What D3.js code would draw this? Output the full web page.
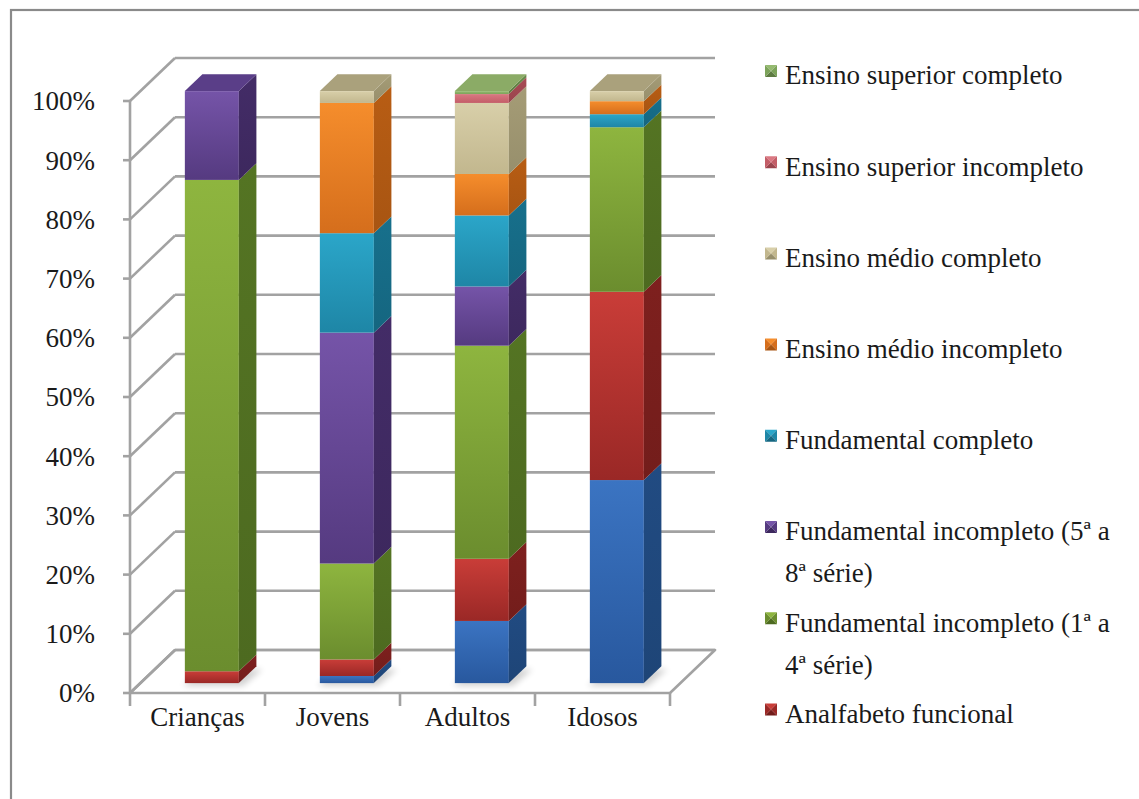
<!DOCTYPE html>
<html>
<head>
<meta charset="utf-8">
<script src="https://cdn.jsdelivr.net/npm/d3@7"></script>
<style>
  html, body { margin: 0; padding: 0; background: #fff; }
  svg { display: block; }
  svg text { font-family: "Liberation Serif", Tinos, "Times New Roman", Times, "DejaVu Serif", serif; fill: #1a1a1a; }
</style>
</head>
<body>
<svg id="chart" width="1139" height="799"></svg>
<script>
// Age groups along the x axis
const categories = ["Crianças", "Jovens", "Adultos", "Idosos"];

// Percentage of each schooling level per age group (stacked bottom to top)
const analfabeto          = [0, 1.2, 10.5, 34.3];
const analfabetoFuncional = [2, 2.8, 10.5, 31.8];
const fund1a4             = [83, 16.2, 36, 27.8];
const fund5a8             = [15, 39, 10, 0];
const fundCompleto        = [0, 16.8, 12, 2.2];
const medioIncompleto     = [0, 22, 7, 2.2];
const medioCompleto       = [0, 2, 12, 1.7];
const superiorIncompleto  = [0, 0, 1.5, 0];
const superiorCompleto    = [0, 0, 0.5, 0];

const seriesKeys = ["analfabeto", "analfabetoFuncional", "fund1a4", "fund5a8", "fundCompleto",
                    "medioIncompleto", "medioCompleto", "superiorIncompleto", "superiorCompleto"];
const seriesValues = [analfabeto, analfabetoFuncional, fund1a4, fund5a8, fundCompleto,
                      medioIncompleto, medioCompleto, superiorIncompleto, superiorCompleto];

// Legend entries, top to bottom (each entry may wrap onto two lines)
const legendKeys = ["superiorCompleto", "superiorIncompleto", "medioCompleto", "medioIncompleto",
                    "fundCompleto", "fund5a8", "fund1a4", "analfabetoFuncional"];
const legendLabels = [
  ["Ensino superior completo"],
  ["Ensino superior incompleto"],
  ["Ensino médio completo"],
  ["Ensino médio incompleto"],
  ["Fundamental completo"],
  ["Fundamental incompleto (5ª a", "8ª série)"],
  ["Fundamental incompleto (1ª a", "4ª série)"],
  ["Analfabeto funcional"]
];

// Y axis ticks
const yTicks = [0, 10, 20, 30, 40, 50, 60, 70, 80, 90, 100];

const FONT = "'Liberation Serif', Tinos, 'Times New Roman', Times, 'DejaVu Serif', serif";

// Fill shades per series: front face top, front face bottom, side face, top face
const palette = {
  analfabeto:          { light: "#3b74c2", dark: "#28589e", side: "#1e4577", top: "#2f5f9f" },
  analfabetoFuncional: { light: "#c93d38", dark: "#9a2826", side: "#731d1b", top: "#a52d2a" },
  fund1a4:             { light: "#8eb53f", dark: "#6b8d2e", side: "#4d6a20", top: "#7a9d35" },
  fund5a8:             { light: "#7554a8", dark: "#553a80", side: "#3d285e", top: "#5a3e88" },
  fundCompleto:        { light: "#2ba6c9", dark: "#1e86a6", side: "#156680", top: "#2290b0" },
  medioIncompleto:     { light: "#f58d2c", dark: "#d56e1c", side: "#a85512", top: "#d9761f" },
  medioCompleto:       { light: "#d8cfa9", dark: "#c2b78e", side: "#978f6c", top: "#aaa17c" },
  superiorIncompleto:  { light: "#da7882", dark: "#c35d67", side: "#9a454d", top: "#b4545d" },
  superiorCompleto:    { light: "#95ba70", dark: "#7ca35a", side: "#5e7c42", top: "#8bab66" }
};

const svg = d3.select("#chart");

// Outer frame
svg.append("rect")
  .attr("x", 11).attr("y", 10)
  .attr("width", 1160).attr("height", 820)
  .attr("fill", "#fff").attr("stroke", "#8a8a8a").attr("stroke-width", 2.2);

// Front plane scales
const x = d3.scaleBand().domain(categories).range([130, 670]).paddingInner(0).paddingOuter(0);
const y = d3.scaleLinear().domain([0, 100]).range([693, 101]);

// Depth projection: full depth of the plot box
const DX = 45, DY = -43;
const proj = (px, py, f) => [px + DX * f, py + DY * f];

// Bars sit between these depth fractions
const fFront = 0.23, fBack = 0.62;
const barFrac = 0.4;

const gridColor = "#a2a2a2";
const gw = 2.6;

// Floor
const floor = [proj(130, y(0), 0), proj(670, y(0), 0), proj(670, y(0), 1), proj(130, y(0), 1)];
svg.append("polygon")
  .attr("points", floor.map(p => p.join(",")).join(" "))
  .attr("fill", "#fff").attr("stroke", gridColor).attr("stroke-width", gw)
  .attr("stroke-linejoin", "round");

// Back wall gridlines and left wall diagonals
const grid = svg.append("g").attr("fill", "none").attr("stroke", gridColor).attr("stroke-width", gw);
yTicks.forEach(t => {
  const b0 = proj(130, y(t), 1), b1 = proj(670, y(t), 1);
  grid.append("line").attr("x1", b0[0]).attr("y1", b0[1]).attr("x2", b1[0]).attr("y2", b1[1]);
  grid.append("line").attr("x1", 130).attr("y1", y(t)).attr("x2", b0[0]).attr("y2", b0[1]);
});

// Front vertical axis with ticks
const axisG = svg.append("g");
axisG.append("line").attr("x1", 130).attr("x2", 130).attr("y1", y(100)).attr("y2", y(0))
  .attr("stroke", gridColor).attr("stroke-width", gw);
yTicks.forEach(t => {
  axisG.append("line").attr("x1", 123).attr("x2", 130).attr("y1", y(t)).attr("y2", y(t))
    .attr("stroke", gridColor).attr("stroke-width", gw);
  axisG.append("text")
    .attr("x", 95).attr("y", y(t)).attr("dy", "0.35em")
    .attr("text-anchor", "end").attr("font-size", 27).attr("font-family", FONT)
    .text(t + "%");
});

// Category ticks along the front floor edge
const xTickPos = categories.map(c => x(c)).concat([x.range()[1]]);
xTickPos.forEach(px => {
  axisG.append("line").attr("x1", px).attr("x2", px).attr("y1", y(0)).attr("y2", y(0) + 13)
    .attr("stroke", gridColor).attr("stroke-width", gw);
});
categories.forEach(c => {
  axisG.append("text")
    .attr("x", x(c) + x.bandwidth() / 2).attr("y", 717).attr("dy", "0.35em")
    .attr("text-anchor", "middle").attr("font-size", 27).attr("font-family", FONT)
    .text(c);
});

// Gradients for front and side faces
const defs = svg.append("defs");
seriesKeys.forEach(k => {
  const g = defs.append("linearGradient").attr("id", "grad-" + k)
    .attr("x1", 0).attr("y1", 0).attr("x2", 0).attr("y2", 1);
  g.append("stop").attr("offset", "0%").attr("stop-color", palette[k].light);
  g.append("stop").attr("offset", "100%").attr("stop-color", palette[k].dark);
  const s = defs.append("linearGradient").attr("id", "side-" + k)
    .attr("x1", 0).attr("y1", 0).attr("x2", 0).attr("y2", 1);
  s.append("stop").attr("offset", "0%").attr("stop-color", d3.color(palette[k].side).brighter(0.25));
  s.append("stop").attr("offset", "100%").attr("stop-color", palette[k].side);
});
const blur = defs.append("filter").attr("id", "shadowBlur").attr("x", "-50%").attr("y", "-50%")
  .attr("width", "200%").attr("height", "200%");
blur.append("feGaussianBlur").attr("stdDeviation", 3);

// Stack the series
const rows = categories.map((c, i) => {
  const r = { category: c };
  seriesKeys.forEach((k, j) => { r[k] = seriesValues[j][i]; });
  return r;
});
const stacked = d3.stack().keys(seriesKeys)(rows);

const barsG = svg.append("g");
const sideDX = DX * (fBack - fFront), sideDY = DY * (fBack - fFront);

categories.forEach((c, ci) => {
  const bw = x.bandwidth() * barFrac;
  const bx0 = x(c) + (x.bandwidth() - bw) / 2 + DX * fFront + 4;
  const bx1 = bx0 + bw;
  const yOff = DY * fFront;

  // soft shadow on the floor
  barsG.append("polygon")
    .attr("points", [[bx0 - 2, y(0) + yOff + 3], [bx1 + 4, y(0) + yOff + 3],
                     [bx1 + sideDX + 6, y(0) + yOff + sideDY + 3], [bx0 + sideDX, y(0) + yOff + sideDY + 3]]
      .map(p => p.join(",")).join(" "))
    .attr("fill", "#000").attr("opacity", 0.18).attr("filter", "url(#shadowBlur)");

  let topKey = null, topY = null;
  stacked.forEach(layer => {
    const k = layer.key;
    const [v0, v1] = layer[ci];
    if (v1 - v0 <= 0) return;
    const yt = y(v1) + yOff, yb = y(v0) + yOff;
    barsG.append("rect")
      .attr("x", bx0).attr("y", yt).attr("width", bw).attr("height", yb - yt)
      .attr("fill", "url(#grad-" + k + ")");
    barsG.append("polygon")
      .attr("points", [[bx1, yb], [bx1, yt], [bx1 + sideDX, yt + sideDY], [bx1 + sideDX, yb + sideDY]]
        .map(p => p.join(",")).join(" "))
      .attr("fill", "url(#side-" + k + ")");
    topKey = k; topY = yt;
  });
  if (topKey) {
    barsG.append("polygon")
      .attr("points", [[bx0, topY], [bx1, topY], [bx1 + sideDX, topY + sideDY], [bx0 + sideDX, topY + sideDY]]
        .map(p => p.join(",")).join(" "))
      .attr("fill", palette[topKey].top);
  }
});

// Legend
const legendG = svg.append("g");
const legendX = 765, legendTextX = 785, legendTop = 75, legendStep = 91.2, lineH = 42;
legendKeys.forEach((k, i) => {
  const cy = legendTop + i * legendStep;
  const s = 12, mx = legendX, my = cy - 10;
  const p = palette[k];
  const c = [mx + s / 2, my + s / 2];
  // bevelled marker: four triangles meeting in the centre
  const tri = (a, b, fill) => legendG.append("polygon")
    .attr("points", [a, b, c].map(q => q.join(",")).join(" ")).attr("fill", fill);
  tri([mx, my], [mx + s, my], p.light);
  tri([mx + s, my], [mx + s, my + s], p.dark);
  tri([mx + s, my + s], [mx, my + s], p.side);
  tri([mx, my + s], [mx, my], p.dark);
  legendLabels[i].forEach((line, li) => {
    legendG.append("text")
      .attr("x", legendTextX).attr("y", cy + li * lineH).attr("dy", "0.35em")
      .attr("font-size", 27).attr("font-family", FONT)
      .text(line);
  });
});
</script>
</body>
</html>
